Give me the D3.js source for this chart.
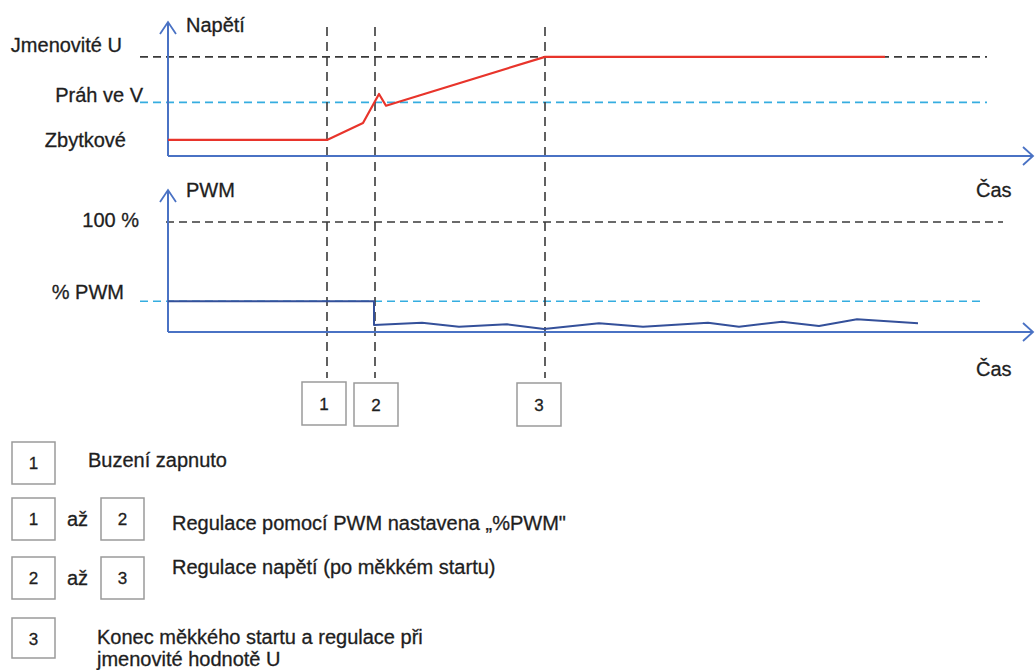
<!DOCTYPE html>
<html>
<head>
<meta charset="utf-8">
<script src="https://cdn.jsdelivr.net/npm/d3@7"></script>
<style>
  html, body { margin: 0; padding: 0; background: #fff; }
  svg { display: block; }
  text { font-family: "Liberation Sans", Arial, Helvetica, sans-serif; fill: #1e1e1e; stroke: #1e1e1e; stroke-width: 0.3; }
</style>
</head>
<body>
<svg id="chart" width="1035" height="670"></svg>
<script>
// ---------------- DATA ----------------
// time axis (arbitrary units)
const timeDomain = [0, 86.6];
// event markers
const eventTimes = [15.9, 20.7, 37.7];
const eventLabels = ["1", "2", "3"];

// voltage panel
const voltageDomain = [0, 100];
const voltageLevelLabels = ["Jmenovité U", "Práh ve V", "Zbytkové"];
const voltageLevelValues = [74, 40, 12];
const voltageT = [0, 15.9, 19.5, 21.1, 21.8, 37.7, 71.7];
const voltageV = [12, 12, 24.6, 46.3, 37.5, 74, 74];

// PWM panel
const pwmDomain = [0, 100];
const pwmLevelLabels = ["100 %", "% PWM"];
const pwmLevelValues = [100, 28];
const pwmT = [0, 20.6, 20.6, 25.4, 29.1, 33.9, 37.6, 43.1, 47.5, 54.0, 57.1, 61.4, 65.1, 68.9, 75.0];
const pwmV = [28, 28, 6.4, 8.5, 4.8, 7.0, 2.7, 7.9, 4.8, 8.5, 4.8, 9.4, 5.5, 11.5, 7.9];

// axis titles
const voltageAxisTitle = "Napětí";
const pwmAxisTitle = "PWM";
const timeAxisTitle = "Čas";

// legend
const legendRows = [
  { boxes: ["1"], text: ["Buzení zapnuto"] },
  { boxes: ["1", "2"], text: ["Regulace pomocí PWM nastavena „%PWM\""] },
  { boxes: ["2", "3"], text: ["Regulace napětí (po měkkém startu)"] },
  { boxes: ["3"], text: ["Konec měkkého startu a regulace při", "jmenovité hodnotě U"] }
];
const legendJoin = "až";

// ---------------- LAYOUT / STYLE ----------------
const axisBlue = "#4a72c4";
const redLine = "#e8342b";
const pwmBlue = "#34509a";
const cyanDash = "#35ade0";
const darkDash = "#3a3a3a";
const boxStroke = "#9a9a9a";
const FS = 20;

const svg = d3.select("#chart");

const x = d3.scaleLinear().domain(timeDomain).range([168, 1034]);
const yV = d3.scaleLinear().domain(voltageDomain).range([156, 22]);
const yP = d3.scaleLinear().domain(pwmDomain).range([332, 222]);

// ---- reference dashed levels ----
const vLevelStyle = [
  { color: darkDash, from: -2.8, to: 81.9, lx: 122, ly: 45 },
  { color: cyanDash, from: -2.8, to: 81.9, lx: 143, ly: 95 },
  { color: null, from: 0, to: 0, lx: 126, ly: 140 }
];
const pLevelStyle = [
  { color: darkDash, from: -0.2, to: 83.5, lx: 139, ly: 220 },
  { color: cyanDash, from: -2.8, to: 81.7, lx: 124, ly: 292 }
];

function drawLevels(labels, values, styles, yScale) {
  values.forEach((v, i) => {
    const s = styles[i];
    if (s.color) {
      svg.append("line")
        .attr("x1", x(s.from)).attr("x2", x(s.to))
        .attr("y1", yScale(v)).attr("y2", yScale(v))
        .attr("stroke", s.color).attr("stroke-width", 1.6)
        .attr("stroke-dasharray", "8,5");
    }
    svg.append("text")
      .attr("x", s.lx).attr("y", s.ly)
      .attr("text-anchor", "end").attr("dominant-baseline", "central")
      .attr("font-size", FS)
      .text(labels[i]);
  });
}
drawLevels(voltageLevelLabels, voltageLevelValues, vLevelStyle, yV);
drawLevels(pwmLevelLabels, pwmLevelValues, pLevelStyle, yP);

// ---- vertical event dashed lines ----
svg.selectAll(".evline").data(eventTimes).enter().append("line")
  .attr("x1", d => x(d)).attr("x2", d => x(d))
  .attr("y1", 27).attr("y2", 378)
  .attr("stroke", darkDash).attr("stroke-width", 1.6)
  .attr("stroke-dasharray", "9,6");

// ---- axes ----
function drawAxes(yScale, topVal, title, titleY, timeTitleY) {
  const g = svg.append("g");
  const x0 = x(0), y0 = yScale(0), yTop = yScale(topVal), xEnd = x(timeDomain[1]);
  g.append("line").attr("x1", x0).attr("x2", x0).attr("y1", y0).attr("y2", yTop)
    .attr("stroke", axisBlue).attr("stroke-width", 2);
  g.append("line").attr("x1", x0).attr("x2", xEnd - 1).attr("y1", y0).attr("y2", y0)
    .attr("stroke", axisBlue).attr("stroke-width", 2);
  g.append("path")
    .attr("d", `M${x0 - 8},${yTop + 12} L${x0},${yTop} L${x0 + 8},${yTop + 12}`)
    .attr("fill", "none").attr("stroke", axisBlue).attr("stroke-width", 1.8);
  g.append("path")
    .attr("d", `M${xEnd - 11},${y0 - 9} L${xEnd - 1},${y0} L${xEnd - 11},${y0 + 9}`)
    .attr("fill", "none").attr("stroke", axisBlue).attr("stroke-width", 1.8);
  g.append("text").attr("x", x0 + 18).attr("y", titleY)
    .attr("dominant-baseline", "central").attr("font-size", FS).text(title);
  g.append("text").attr("x", 976).attr("y", timeTitleY)
    .attr("dominant-baseline", "central").attr("font-size", FS).text(timeAxisTitle);
}
drawAxes(yV, 100, voltageAxisTitle, 25, 190);
drawAxes(yP, 100 * (332 - 190) / 110, pwmAxisTitle, 190, 369);

// ---- series ----
const vLine = d3.line().x(d => x(d[0])).y(d => yV(d[1]));
svg.append("path")
  .attr("d", vLine(d3.zip(voltageT, voltageV)))
  .attr("fill", "none").attr("stroke", redLine).attr("stroke-width", 2.2)
  .attr("stroke-linejoin", "round");

const pLine = d3.line().x(d => x(d[0])).y(d => yP(d[1]));
svg.append("path")
  .attr("d", pLine(d3.zip(pwmT, pwmV)))
  .attr("fill", "none").attr("stroke", pwmBlue).attr("stroke-width", 2)
  .attr("stroke-linejoin", "round");

// ---- event boxes under chart ----
const evBoxY = [382, 383, 383];
const evBoxShift = [-3, 1, -6];
eventTimes.forEach((t, i) => {
  const cx = x(t) + evBoxShift[i];
  svg.append("rect")
    .attr("x", cx - 22).attr("y", evBoxY[i]).attr("width", 44).attr("height", 43)
    .attr("fill", "#fff").attr("stroke", boxStroke).attr("stroke-width", 1.5);
  svg.append("text")
    .attr("x", cx).attr("y", evBoxY[i] + 22)
    .attr("text-anchor", "middle").attr("dominant-baseline", "central")
    .attr("font-size", 17).attr("fill", "#333").attr("stroke", "none").text(eventLabels[i]);
});

// ---- legend ----
const rowTop = [442, 498, 557, 618];
const rowBoxH = [42, 42, 42, 40];
const textX = [88, 172, 172, 97];
const textY = [460, 523, 567, 637];
legendRows.forEach((row, r) => {
  const bx = [12, 101];
  row.boxes.forEach((b, k) => {
    const xx = bx[k];
    svg.append("rect")
      .attr("x", xx).attr("y", rowTop[r]).attr("width", 43).attr("height", rowBoxH[r])
      .attr("fill", "#fff").attr("stroke", boxStroke).attr("stroke-width", 1.5);
    svg.append("text")
      .attr("x", xx + 21.5).attr("y", rowTop[r] + 21)
      .attr("text-anchor", "middle").attr("dominant-baseline", "central")
      .attr("font-size", 17).attr("fill", "#333").attr("stroke", "none").text(b);
  });
  if (row.boxes.length > 1) {
    svg.append("text")
      .attr("x", 67).attr("y", rowTop[r] + 21)
      .attr("dominant-baseline", "central")
      .attr("font-size", FS).text(legendJoin);
  }
  row.text.forEach((t, k) => {
    svg.append("text")
      .attr("x", textX[r]).attr("y", textY[r] + k * 22)
      .attr("dominant-baseline", "central")
      .attr("font-size", FS).text(t);
  });
});
</script>
</body>
</html>
